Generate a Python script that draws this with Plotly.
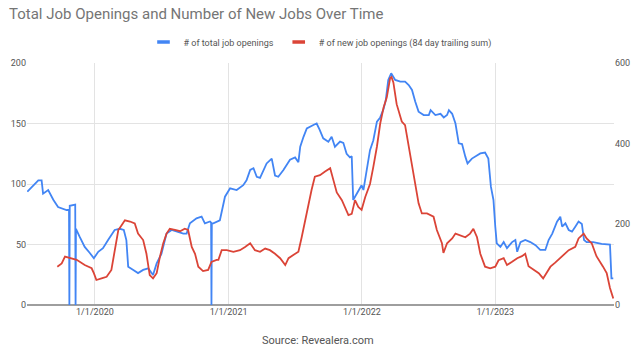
import plotly.graph_objects as go

# ---- data ----
total_dates = [
    "2019-06-30", "2019-07-16", "2019-07-30", "2019-08-08", "2019-08-12", "2019-08-26",
    "2019-09-09", "2019-09-22", "2019-10-15", "2019-10-22", "2019-10-23", "2019-10-24",
    "2019-11-08", "2019-11-09", "2019-11-10", "2019-11-20", "2019-12-04", "2019-12-18",
    "2019-12-29", "2020-01-10", "2020-01-23", "2020-02-06", "2020-02-24", "2020-03-09",
    "2020-03-20", "2020-03-27", "2020-04-01", "2020-04-15", "2020-04-28", "2020-05-12",
    "2020-05-26", "2020-06-08", "2020-06-18", "2020-07-01", "2020-07-15", "2020-07-29",
    "2020-08-16", "2020-08-30", "2020-09-08", "2020-09-17", "2020-10-05", "2020-10-19",
    "2020-10-28", "2020-11-11", "2020-11-14", "2020-11-15", "2020-11-16", "2020-11-20",
    "2020-12-08", "2020-12-22", "2021-01-05", "2021-01-23", "2021-02-10", "2021-02-19",
    "2021-03-01", "2021-03-10", "2021-03-19", "2021-03-28", "2021-04-06", "2021-04-15",
    "2021-04-29", "2021-05-08", "2021-05-17", "2021-05-31", "2021-06-18", "2021-07-02",
    "2021-07-11", "2021-07-16", "2021-07-25", "2021-08-03", "2021-08-21", "2021-08-30",
    "2021-09-07", "2021-09-17", "2021-10-01", "2021-10-10", "2021-10-19", "2021-11-02",
    "2021-11-11", "2021-11-20", "2021-11-29", "2021-12-04", "2021-12-08", "2021-12-17",
    "2021-12-31", "2022-01-05", "2022-01-14", "2022-01-23", "2022-02-01", "2022-02-11",
    "2022-02-20", "2022-03-01", "2022-03-07", "2022-03-14", "2022-03-22", "2022-04-02",
    "2022-04-16", "2022-04-29", "2022-05-09", "2022-05-18", "2022-05-27", "2022-06-05",
    "2022-06-19", "2022-07-03", "2022-07-08", "2022-07-21", "2022-08-04", "2022-08-13",
    "2022-08-22", "2022-08-27", "2022-09-05", "2022-09-14", "2022-09-23", "2022-10-02",
    "2022-10-11", "2022-10-17", "2022-10-29", "2022-11-21", "2022-12-04", "2022-12-13",
    "2022-12-20", "2022-12-27", "2023-01-01", "2023-01-05", "2023-01-15", "2023-01-24",
    "2023-02-02", "2023-02-16", "2023-02-25", "2023-03-02", "2023-03-11", "2023-03-24",
    "2023-04-07", "2023-04-21", "2023-05-04", "2023-05-18", "2023-05-27", "2023-06-06",
    "2023-06-19", "2023-06-28", "2023-07-03", "2023-07-12", "2023-07-21", "2023-07-30",
    "2023-08-08", "2023-08-17", "2023-08-26", "2023-09-01", "2023-09-08", "2023-09-26",
    "2023-10-19", "2023-11-11", "2023-11-15", "2023-11-20",
]
total_openings = [
    93.6, 99, 103, 103, 92, 95,
    87, 81, 78.5, 79, 0, 82,
    83, 0, 63, 56.5, 48, 43,
    38.6, 44, 47, 53.7, 62, 63,
    62, 53.7, 31.7, 29, 26.4, 29,
    30.3, 24.8, 34.4, 42.3, 59, 62,
    60.6, 59, 59, 67.5, 71.6, 73,
    67.5, 69, 68, 0, 67.5, 67.5,
    70, 89.5, 96.4, 95, 99, 103,
    111.6, 113, 106, 105, 111.6, 117,
    121, 107, 106, 111.6, 120, 122,
    118, 130.8, 139, 146, 148.8, 150,
    145, 137.7, 135, 139, 130.8, 135,
    134, 125, 122, 123, 86.8, 92,
    99, 95, 111.6, 128, 136, 151.5,
    155, 162, 169, 186, 191.5, 186,
    184.6, 184.6, 181.8, 177.7, 168, 159.8,
    157, 157, 161, 157, 158, 155,
    157, 161, 158, 150, 133.6, 133,
    122.6, 117, 121, 125.3, 126, 121,
    97.8, 86.8, 64.7, 51, 48, 52,
    47, 52, 53.7, 44, 52, 53.7,
    52, 49.5, 45.5, 45.5, 53.7, 59,
    68.9, 73, 64.7, 67.5, 62, 60.6,
    64.7, 68.9, 67, 53.7, 52, 52,
    50.5, 50, 22, 22,
]

new_dates = [
    "2019-09-20", "2019-10-02", "2019-10-11", "2019-10-24", "2019-11-12", "2019-12-04",
    "2019-12-23", "2019-12-29", "2020-01-05", "2020-01-19", "2020-02-02", "2020-02-15",
    "2020-02-24", "2020-03-05", "2020-03-14", "2020-03-23", "2020-04-06", "2020-04-19",
    "2020-04-28", "2020-05-12", "2020-05-21", "2020-05-30", "2020-06-08", "2020-06-18",
    "2020-06-27", "2020-07-06", "2020-07-15", "2020-07-24", "2020-08-07", "2020-08-21",
    "2020-09-03", "2020-09-12", "2020-09-22", "2020-10-01", "2020-10-10", "2020-10-23",
    "2020-11-06", "2020-11-15", "2020-11-29", "2020-12-04", "2020-12-13", "2020-12-27",
    "2021-01-14", "2021-02-01", "2021-02-15", "2021-03-01", "2021-03-14", "2021-03-28",
    "2021-04-11", "2021-04-24", "2021-05-08", "2021-05-22", "2021-06-05", "2021-06-14",
    "2021-06-27", "2021-07-11", "2021-07-20", "2021-07-29", "2021-08-07", "2021-08-16",
    "2021-08-25", "2021-09-08", "2021-09-22", "2021-10-06", "2021-10-15", "2021-10-24",
    "2021-11-07", "2021-11-16", "2021-11-25", "2021-12-04", "2021-12-13", "2021-12-22",
    "2021-12-31", "2022-01-10", "2022-01-23", "2022-02-01", "2022-02-11", "2022-02-20",
    "2022-03-01", "2022-03-10", "2022-03-19", "2022-03-23", "2022-03-28", "2022-04-06",
    "2022-04-20", "2022-04-29", "2022-05-08", "2022-05-18", "2022-05-27", "2022-06-05",
    "2022-06-14", "2022-06-28", "2022-07-16", "2022-07-25", "2022-08-08", "2022-08-12",
    "2022-08-22", "2022-09-05", "2022-09-14", "2022-09-28", "2022-10-11", "2022-10-24",
    "2022-11-02", "2022-11-12", "2022-11-21", "2022-12-04", "2022-12-18", "2023-01-01",
    "2023-01-10", "2023-01-24", "2023-02-02", "2023-02-16", "2023-03-02", "2023-03-15",
    "2023-03-24", "2023-04-02", "2023-04-16", "2023-04-30", "2023-05-12", "2023-05-23",
    "2023-06-01", "2023-06-14", "2023-07-03", "2023-07-21", "2023-08-08", "2023-08-17",
    "2023-08-31", "2023-09-08", "2023-09-22", "2023-10-05", "2023-10-23", "2023-11-02",
    "2023-11-11", "2023-11-20",
]
new_openings = [
    95, 103, 120, 116, 112, 99,
    91, 79, 62, 66, 70, 87,
    136, 186, 198, 210, 207, 202,
    177, 161, 127, 74, 66, 79,
    120, 153, 177, 189, 186, 183,
    189, 186, 144, 127, 95, 84,
    87, 107, 112, 112, 136, 136,
    132, 136, 144, 153, 136, 132,
    140, 136, 127, 116, 99, 116,
    124, 132, 168, 210, 252, 285,
    318, 322, 331, 339, 309, 279,
    260, 240, 223, 226, 260, 243,
    236, 268, 300, 342, 393, 450,
    489, 515, 562, 565, 552, 498,
    455, 446, 401, 351, 297, 252,
    227, 227, 219, 186, 153, 129,
    153, 165, 177, 172, 168, 177,
    189, 168, 127, 95, 91, 95,
    111, 116, 99, 107, 116, 121,
    127, 96, 87, 79, 66, 84,
    95, 105, 121, 136, 144, 165,
    177, 165, 153, 121, 95, 79,
    42, 16,
]

series_names = ["# of total job openings", "# of new job openings (84 day trailing sum)"]
series_colors = ["#4285F4", "#DB4437"]
left_ticks = [0, 50, 100, 150, 200]
right_ticks = [0, 200, 400, 600]
x_range = ["2019-06-29", "2023-11-22"]

FONT = "Roboto, Arial, sans-serif"

fig = go.Figure()
fig.add_trace(go.Scatter(
    x=total_dates, y=total_openings, mode="lines", name=series_names[0],
    line=dict(color=series_colors[0], width=1.8), showlegend=False, yaxis="y",
))
fig.add_trace(go.Scatter(
    x=new_dates, y=new_openings, mode="lines", name=series_names[1],
    line=dict(color=series_colors[1], width=1.8), showlegend=False, yaxis="y2",
))
# legend entries with short bar symbols
for nm, col in zip(series_names, series_colors):
    fig.add_trace(go.Scatter(
        x=[None], y=[None], mode="markers", name=nm,
        marker=dict(symbol="line-ew", size=9, line=dict(color=col, width=3.5)),
        showlegend=True,
    ))

fig.update_layout(
    width=640, height=354,
    margin=dict(l=27, r=26, t=63, b=49, autoexpand=False),
    paper_bgcolor="white", plot_bgcolor="white",
    font=dict(family=FONT, size=9, color="#555555"),
    title=dict(
        text="Total Job Openings and Number of New Jobs Over Time",
        x=9 / 640, xanchor="left", xref="container",
        y=1 - 14 / 354, yanchor="middle", yref="container",
        font=dict(family=FONT, size=15, color="#757575"),
    ),
    legend=dict(
        orientation="h", xref="container", yref="container",
        x=0.5, xanchor="center", y=1 - 42 / 354, yanchor="middle",
        font=dict(family=FONT, size=9, color="#555555"),
        itemwidth=30, tracegroupgap=0,
    ),
    xaxis=dict(
        type="date", range=x_range,
        dtick="M12", tick0="2020-01-01", tickformat="%-m/%-d/%Y",
        showgrid=True, gridcolor="#e3e3e3", gridwidth=1,
        showline=False, zeroline=False, ticks="",
        tickfont=dict(family=FONT, size=9, color="#555555"),
    ),
    yaxis=dict(
        range=[0, 200], tickvals=left_ticks,
        showgrid=True, gridcolor="#e3e3e3", gridwidth=1,
        zeroline=True, zerolinecolor="#9e9e9e", zerolinewidth=1.5,
        showline=False, ticks="",
        tickfont=dict(family=FONT, size=9, color="#555555"),
    ),
    yaxis2=dict(
        range=[0, 600], tickvals=right_ticks, overlaying="y", side="right",
        showgrid=False, zeroline=False, showline=False, ticks="",
        tickfont=dict(family=FONT, size=9, color="#555555"),
    ),
    annotations=[dict(
        text="Source: Revealera.com", xref="paper", yref="paper",
        x=(317.5 - 27) / 587, y=(305 - 340) / 242, xanchor="center", yanchor="middle",
        showarrow=False, font=dict(family=FONT, size=11, color="#555555"),
    )],
)

fig.write_html("out.html")
